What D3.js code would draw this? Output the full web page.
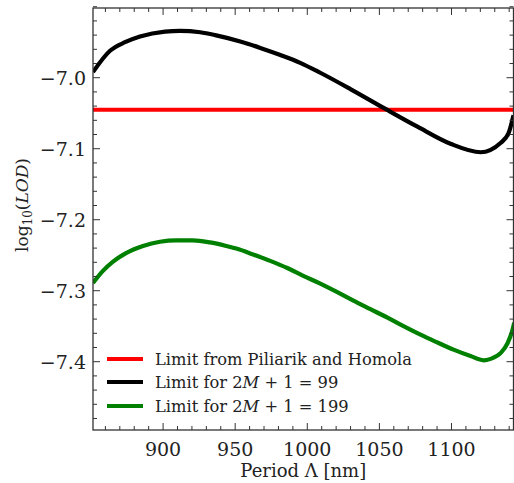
<!DOCTYPE html>
<html><head><meta charset="utf-8">
<script src="https://cdn.jsdelivr.net/npm/d3@7"></script>
<style>body{margin:0;background:#fff}svg{display:block}</style>
</head><body>
<svg id="c" width="514" height="483"></svg>
<script>
const redLimit = -7.045;
const blackLambda = [851.4,863.2,873.6,884.0,901.4,911.8,925.7,936.1,953.5,967.4,981.3,995.1,1009.0,1029.9,1054.2,1076.4,1099.3,1120.2,1134.0,1139.6,1143.0];
const blackValues = [-6.992,-6.962,-6.950,-6.942,-6.935,-6.934,-6.936,-6.940,-6.949,-6.958,-6.968,-6.979,-6.993,-7.016,-7.044,-7.069,-7.093,-7.105,-7.092,-7.078,-7.053];
const greenLambda = [851.4,858.3,865.3,874.3,886.1,897.9,909.0,920.8,932.6,943.8,951.4,962.5,974.3,986.1,997.2,1009.0,1020.8,1032.0,1043.8,1055.6,1066.7,1078.5,1090.3,1101.4,1113.2,1122.2,1127.1,1134.0,1138.9,1142.3,1143.5];
const greenValues = [-7.289,-7.272,-7.259,-7.247,-7.237,-7.231,-7.229,-7.229,-7.232,-7.237,-7.241,-7.249,-7.258,-7.268,-7.279,-7.290,-7.302,-7.314,-7.326,-7.338,-7.350,-7.362,-7.373,-7.383,-7.392,-7.398,-7.396,-7.388,-7.374,-7.355,-7.345];
const xTicks = [900,950,1000,1050,1100];
const yTicks = [-7.0,-7.1,-7.2,-7.3,-7.4];
const legendLabels = ["Limit from Piliarik and Homola","Limit for 2M+1=99","Limit for 2M+1=199"];
const colors = ["#ff0000","#000000","#008000"];

const svg = d3.select("#c");
const L=93,R=513.5,T=8,B=430;
const x = d3.scaleLinear().domain([851.4,1143]).range([L,R]);
const y = d3.scaleLinear().domain([-7.4962,-6.9018]).range([B,T]);
const font = "'DejaVu Serif', serif";

svg.append("defs").append("clipPath").attr("id","clip").append("rect")
  .attr("x",L).attr("y",T).attr("width",R-L).attr("height",B-T);

const g = svg.append("g").attr("clip-path","url(#clip)");
const line = d3.line().x(d=>x(d[0])).y(d=>y(d[1])).curve(d3.curveMonotoneX);

g.append("line").attr("x1",L).attr("x2",R).attr("y1",y(redLimit)).attr("y2",y(redLimit))
  .attr("stroke",colors[0]).attr("stroke-width",4);
g.append("path").attr("d",line(blackLambda.map((l,i)=>[l,blackValues[i]])))
  .attr("fill","none").attr("stroke",colors[1]).attr("stroke-width",4.2).attr("stroke-linejoin","round");
g.append("path").attr("d",line(greenLambda.map((l,i)=>[l,greenValues[i]])))
  .attr("fill","none").attr("stroke",colors[2]).attr("stroke-width",4.2).attr("stroke-linejoin","round");

// axes with inward ticks
const ax = svg.append("g").attr("stroke","#333").attr("stroke-width",1);
const xMinor = d3.range(860,1141,10);
const yMinor = d3.range(-7.48,-6.90,0.02);
function isMajorX(v){return xTicks.some(t=>Math.abs(t-v)<1e-6);}
function isMajorY(v){return yTicks.some(t=>Math.abs(t-v)<1e-6);}
xMinor.forEach(v=>{
  const len = isMajorX(v)?7:4;
  ax.append("line").attr("x1",x(v)).attr("x2",x(v)).attr("y1",B).attr("y2",B-len);
  ax.append("line").attr("x1",x(v)).attr("x2",x(v)).attr("y1",T).attr("y2",T+len);
});
yMinor.forEach(v=>{
  const len = isMajorY(v)?7:4;
  ax.append("line").attr("y1",y(v)).attr("y2",y(v)).attr("x1",L).attr("x2",L+len);
  ax.append("line").attr("y1",y(v)).attr("y2",y(v)).attr("x1",R).attr("x2",R-len);
});
svg.append("rect").attr("x",L).attr("y",T).attr("width",R-L).attr("height",B-T)
  .attr("fill","none").attr("stroke","#333").attr("stroke-width",1.3);

xTicks.forEach(v=>{
  svg.append("text").attr("x",x(v)).attr("y",456).attr("text-anchor","middle")
    .attr("font-family",font).attr("font-size",19).attr("fill","#222").text(v);
});
yTicks.forEach(v=>{
  svg.append("text").attr("x",86).attr("y",y(v)+7).attr("text-anchor","end")
    .attr("font-family",font).attr("font-size",19).attr("fill","#222").text("\u2212"+Math.abs(v).toFixed(1));
});

svg.append("text").attr("x",(L+R)/2).attr("y",477).attr("text-anchor","middle")
  .attr("font-family",font).attr("font-size",18).attr("fill","#222").text("Period \u039b [nm]");

const yl = svg.append("text").attr("transform","translate(28,205) rotate(-90)").attr("text-anchor","middle")
  .attr("font-family",font).attr("font-size",17).attr("fill","#222");
yl.append("tspan").text("log");
yl.append("tspan").attr("font-size",12).attr("dy",4).text("10");
yl.append("tspan").attr("dy",-4).text("(");
yl.append("tspan").attr("font-style","italic").text("LOD");
yl.append("tspan").text(")");

// legend
const ly = [359,382,406];
legendLabels.forEach((lab,i)=>{
  svg.append("line").attr("x1",107).attr("x2",143).attr("y1",ly[i]).attr("y2",ly[i])
    .attr("stroke",colors[i]).attr("stroke-width",4);
  const t = svg.append("text").attr("x",155).attr("y",ly[i]+6)
    .attr("font-family",font).attr("font-size",16.3).attr("fill","#222");
  const m = lab.match(/^(Limit for )2M\+1=(\d+)$/);
  if(m){
    t.append("tspan").text(m[1]+"2");
    t.append("tspan").attr("font-style","italic").text("M");
    t.append("tspan").text(" + 1 = "+m[2]);
  } else t.text(lab);
});
</script>
</body></html>
